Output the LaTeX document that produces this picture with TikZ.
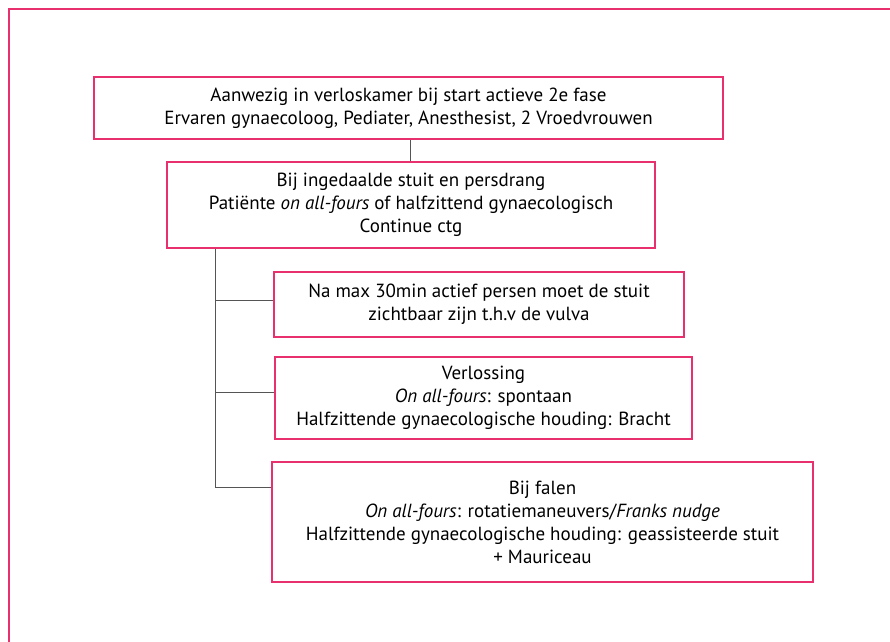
\documentclass[tikz,border=0pt]{standalone}
\usepackage{fontspec}
\setmainfont{PT Sans}
\definecolor{pinkline}{HTML}{E8306E}
\definecolor{conn}{HTML}{555555}
\begin{document}
\begin{tikzpicture}[x=1pt,y=1pt,
  flowbox/.style={draw=pinkline,line width=1.5pt,rectangle,align=center,inner sep=0pt,
    font=\fontsize{19}{23}\selectfont},
  link/.style={draw=conn,line width=1pt}]
\useasboundingbox (0,0) rectangle (890,-641);
\draw[pinkline,line width=1.3pt] (9,-645) -- (9,-9) -- (895,-9);
\node[flowbox,minimum width=629pt,minimum height=62pt] (b1) at (408.5,-108)
  {Aanwezig in verloskamer bij start actieve 2e fase\\Ervaren gynaecoloog, Pediater, Anesthesist, 2 Vroedvrouwen};
\node[flowbox,minimum width=488pt,minimum height=86pt] (b2) at (411,-205)
  {Bij ingedaalde stuit en persdrang\\Patiënte \textit{on all-fours} of halfzittend gynaecologisch\\Continue ctg};
\node[flowbox,minimum width=410pt,minimum height=65pt] (b3) at (479,-304.5)
  {Na max 30min actief persen moet de stuit\\zichtbaar zijn t.h.v de vulva};
\node[flowbox,minimum width=417pt,minimum height=82pt] (b4) at (483.5,-398)
  {Verlossing\\\textit{On all-fours}: spontaan\\Halfzittende gynaecologische houding: Bracht};
\node[flowbox,minimum width=541pt,minimum height=120pt] (b5) at (542.5,-522)
  {Bij falen\\\textit{On all-fours}: rotatiemaneuvers/\textit{Franks nudge}\\Halfzittende gynaecologische houding: geassisteerde stuit\\+ Mauriceau};
\coordinate (top) at ([xshift=49pt]b2.south west);
\coordinate (c3) at ([yshift=4.5pt]b3.west);
\coordinate (c4) at ([yshift=6pt]b4.west);
\coordinate (c5) at ([yshift=-26pt]b5.north west);
\draw[link] ([xshift=1.5pt]b1.south) -- ([xshift=1.5pt]b1.south |- b2.north);
\draw[link] (top) |- (c5);
\draw[link] (top |- c3) -- (c3);
\draw[link] (top |- c4) -- (c4);
\end{tikzpicture}
\end{document}
